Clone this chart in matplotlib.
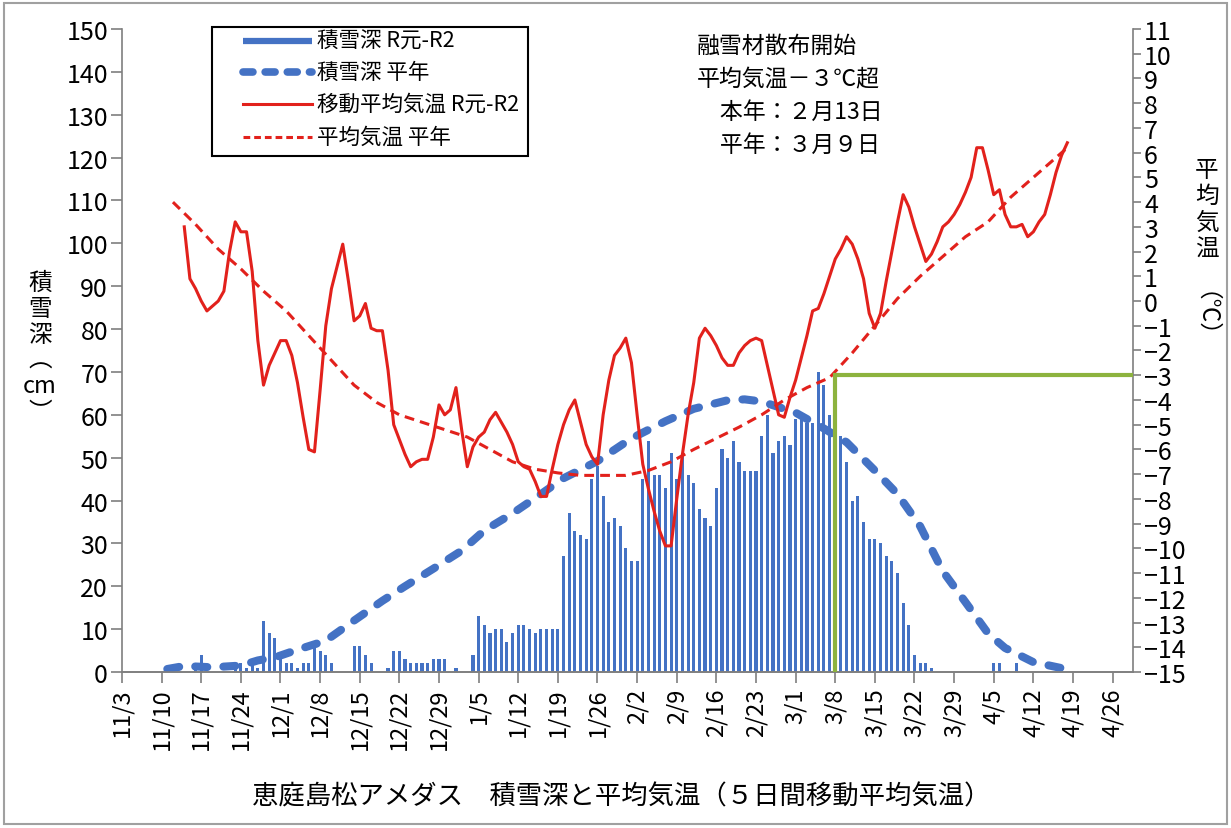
import matplotlib
matplotlib.use('Agg')
import matplotlib.pyplot as plt
from matplotlib.lines import Line2D
from matplotlib.patches import Rectangle

plt.rcParams['font.family'] = ['Noto Sans CJK JP', 'DejaVu Sans']

# day 0 = 11/3 ; one category per day
tick_labels = ['11/3', '11/10', '11/17', '11/24', '12/1', '12/8', '12/15', '12/22',
               '12/29', '1/5', '1/12', '1/19', '1/26', '2/2', '2/9', '2/16', '2/23',
               '3/1', '3/8', '3/15', '3/22', '3/29', '4/5', '4/12', '4/19', '4/26']
tick_days = list(range(0, 176, 7))

# snow depth R元-R2 (cm), daily from day 13 (11/16)
snow_start = 13
snow_cm = [1, 4, 0, 0, 0, 0, 0,
           1, 2, 1, 3, 1, 12, 9, 8, 3, 2,
           2, 1, 2, 2, 6, 5, 4, 2, 0, 0,
           0, 6, 6, 4, 2, 0, 0, 1, 5, 5,
           3, 2, 2, 2, 2, 3, 3, 3, 0, 1,
           0, 0, 4, 13, 11, 9, 10, 10, 7, 9,
           11, 11, 10, 9, 10, 10, 10, 10, 27, 37,
           33, 32, 31, 45, 48, 41, 35, 36, 34, 29,
           26, 26, 45, 54, 46, 46, 43, 51, 45, 51,
           46, 44, 38, 36, 34, 43, 52, 50, 54, 49,
           47, 47, 47, 55, 60, 51, 54, 55, 53, 59,
           59, 58, 58, 70, 67, 60, 58, 55, 49, 40,
           41, 35, 31, 31, 30, 27, 26, 23, 16, 11,
           4, 2, 2, 1, 0, 0, 0, 0, 0, 0,
           0, 0, 0, 0, 2, 2, 0, 0, 2]

# normal snow depth (cm)
snow_norm_days = [8, 11, 16, 21, 24, 27, 31, 36, 41, 46, 50, 55, 60, 64, 69, 74, 78, 84,
                  90, 96, 101, 107, 110, 113, 119, 124, 128, 133, 137, 141, 145, 149,
                  153, 156, 161, 166, 167]
snow_norm = [0.7, 1.4, 1.1, 1.5, 2.7, 3.4, 5.2, 7.3, 12.0, 16.6, 20.0, 24.1, 28.3, 33.0,
             37.0, 41.5, 45.2, 49.2, 54.5, 58.5, 61.4, 63.4, 63.6, 63.1, 60.5, 56.8,
             53.6, 47.0, 41.5, 34.0, 23.5, 16.3, 9.0, 5.6, 2.3, 0.9, 0.6]

# 5-day moving average temperature R元-R2 (deg C), daily from day 11
temp_start = 11
temp_ma = [3.0, 0.9, 0.5, 0.0, -0.4, -0.2, 0.0, 0.4, 2.0, 3.2,
           2.8, 2.8, 1.2, -1.6, -3.4, -2.6, -2.1, -1.6, -1.6, -2.2,
           -3.3, -4.7, -6.0, -6.1, -3.6, -1.0, 0.5, 1.4, 2.3, 0.8,
           -0.8, -0.6, -0.1, -1.1, -1.2, -1.2, -2.8, -5.0, -5.6, -6.2,
           -6.7, -6.5, -6.4, -6.4, -5.5, -4.2, -4.6, -4.4, -3.5, -5.2,
           -6.7, -5.9, -5.5, -5.3, -4.8, -4.5, -4.9, -5.3, -5.8, -6.5,
           -6.7, -6.8, -7.3, -7.9, -7.9, -6.8, -5.8, -5.0, -4.4, -4.0,
           -4.9, -5.8, -6.3, -6.6, -4.6, -3.2, -2.2, -1.9, -1.5, -2.5,
           -4.6, -6.6, -7.6, -8.5, -9.3, -9.9, -9.9, -8.0, -6.2, -4.6,
           -3.3, -1.5, -1.1, -1.4, -1.8, -2.3, -2.6, -2.6, -2.1, -1.8,
           -1.6, -1.5, -1.6, -2.6, -3.6, -4.6, -4.7, -3.9, -3.2, -2.3,
           -1.4, -0.4, -0.3, 0.3, 1.0, 1.7, 2.1, 2.6, 2.3, 1.7,
           0.9, -0.5, -1.1, -0.5, 0.8, 2.0, 3.2, 4.3, 3.8, 3.0,
           2.3, 1.6, 1.9, 2.4, 3.0, 3.2, 3.5, 3.9, 4.4, 5.0,
           6.2, 6.2, 5.3, 4.3, 4.5, 3.5, 3.0, 3.0, 3.1, 2.6,
           2.8, 3.2, 3.5, 4.3, 5.2, 5.9, 6.4]

# normal mean temperature (deg C)
temp_norm_days = [9, 13, 17, 21, 25, 29, 33, 37, 41, 45, 49, 53, 57, 61, 65, 69, 73, 77,
                  81, 85, 89, 93, 97, 101, 105, 109, 113, 117, 121, 125, 129, 133, 137,
                  141, 145, 149, 153, 157, 161, 165, 167]
temp_norm = [4.0, 3.1, 2.1, 1.3, 0.4, -0.4, -1.4, -2.4, -3.4, -4.1, -4.6, -4.9, -5.2,
             -5.5, -6.0, -6.5, -6.8, -6.95, -7.05, -7.05, -7.05, -6.85, -6.5, -6.0,
             -5.55, -5.1, -4.6, -4.0, -3.5, -3.1, -2.1, -1.0, 0.1, 1.0, 1.8, 2.6,
             3.2, 4.2, 5.0, 5.8, 6.2]

# melting agent start line: 3/8, -3 deg C
melt_day = 126
melt_temp = -3

legend_labels = ['積雪深 R元-R2', '積雪深 平年', '移動平均気温 R元-R2', '平均気温 平年']

blue = '#4472C4'
red = '#E2211C'
green = '#8DB33E'
grey = '#7F7F7F'

W, H = 1231, 829


def fx(px):
    return px / W


def fy(py):
    return 1 - py / H


fig = plt.figure(figsize=(12.31, 8.29), dpi=100)
ax = fig.add_axes([fx(122), fy(673), (1133 - 122) / W, (673 - 30) / H])
ax2 = ax.twinx()

snow_days = list(range(snow_start, snow_start + len(snow_cm)))
ax.bar(snow_days, snow_cm, width=0.55, color=blue, zorder=2)
ax.plot(snow_norm_days, snow_norm, color=blue, lw=5.8, dashes=(1.5, 2.0),
        dash_capstyle='round', solid_capstyle='round', zorder=3)

temp_days = list(range(temp_start, temp_start + len(temp_ma)))
ax2.plot(temp_norm_days, temp_norm, color=red, lw=2.2, dashes=(3.2, 2.0), zorder=3)
ax2.plot(temp_days, temp_ma, color=red, lw=2.2, zorder=4)
ax2.plot([melt_day, melt_day, 178.6], [-15, melt_temp, melt_temp], color=green, lw=3,
         zorder=5, solid_joinstyle='miter')

ax.set_xlim(0, 178.6)
ax.set_ylim(0, 150)
ax2.set_ylim(-15, 11)
ax.set_yticks(range(0, 151, 10))
ax2.set_yticks(range(-15, 12, 1))
ax.set_xticks(tick_days)
ax.set_xticklabels(tick_labels, rotation=90, va='top', ha='center')

for a in (ax, ax2):
    a.spines['top'].set_visible(False)
    for s in a.spines.values():
        s.set_color(grey)
        s.set_linewidth(1.2)
ax2.spines['left'].set_visible(False)
ax.spines['right'].set_visible(False)
ax.tick_params(axis='x', length=8, color=grey, width=1.2, labelsize=17, pad=3)
ax.tick_params(axis='y', length=8, color=grey, width=1.2, labelsize=18, pad=2)
ax2.tick_params(axis='y', length=6, color=grey, width=1.2, labelsize=18, pad=2)

# legend box drawn by hand to match the placement
fig.patches.append(Rectangle((fx(212), fy(157)), (528 - 212) / W, (157 - 28) / H,
                             transform=fig.transFigure, facecolor='white',
                             edgecolor='black', lw=1.5, zorder=10))
handle_styles = [dict(color=blue, lw=4.5, solid_capstyle='butt'),
                 dict(color=blue, lw=5.5, dashes=(1.3, 1.6), dash_capstyle='round'),
                 dict(color=red, lw=2.2),
                 dict(color=red, lw=2.2, dashes=(2.2, 1.3))]
row_y = [42, 73, 105, 138]
for style, label, yy in zip(handle_styles, legend_labels, row_y):
    fig.add_artist(Line2D([fx(243), fx(312)], [fy(yy), fy(yy)],
                          transform=fig.transFigure, zorder=11, **style))
    fig.text(fx(317), fy(yy), label, fontsize=15.5, ha='left', va='center', zorder=12)

# annotation
fig.text(fx(697), fy(35),
         '融雪材散布開始\n平均気温－３℃超\n　本年：２月13日\n　平年：３月９日',
         fontsize=16.5, va='top', ha='left', linespacing=1.55)

# axis titles
fig.text(fx(40), fy(348), '積\n雪\n深\n︵\ncm\n︶', fontsize=17,
         ha='center', va='center', linespacing=1.15)
fig.text(fx(1207), fy(210), '平\n均\n気\n温', fontsize=17,
         ha='center', va='center', linespacing=1.2)
fig.text(fx(1192), fy(326), '（℃）', fontsize=17, rotation=-90,
         ha='center', va='center')

fig.text(fx(621), fy(797), '恵庭島松アメダス　積雪深と平均気温（５日間移動平均気温）',
         fontsize=19, ha='center', va='center')

fig.patches.append(Rectangle((0.003, 0.005), 0.994, 0.99, transform=fig.transFigure,
                             fill=False, edgecolor='#A0A0A0', lw=1.5))

fig.savefig('out.png', dpi=100)
